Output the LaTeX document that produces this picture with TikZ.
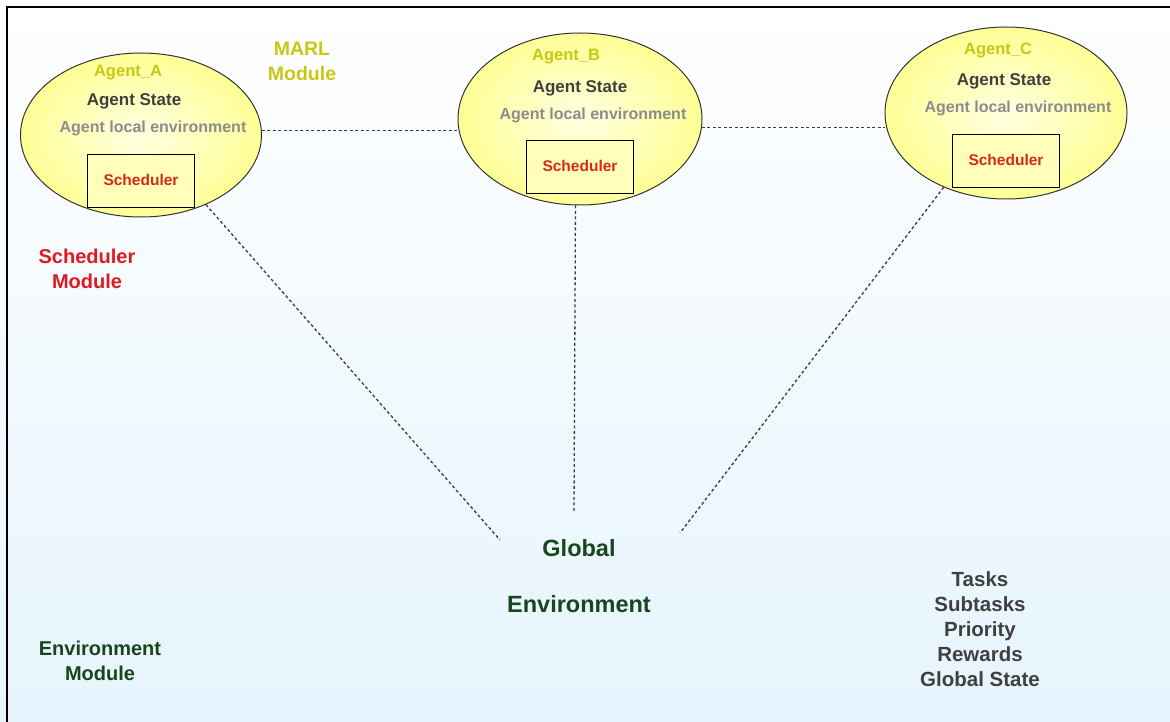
\documentclass[tikz,border=0pt]{standalone}
\usepackage{fontspec}
\setmainfont{Liberation Sans}
\usetikzlibrary{shapes.geometric}

\definecolor{agentyellow}{RGB}{200,200,20}
\definecolor{stategray}{RGB}{64,64,64}
\definecolor{localgray}{RGB}{140,140,140}
\definecolor{schedred}{RGB}{215,40,30}
\definecolor{modred}{RGB}{225,25,35}
\definecolor{envgreen}{RGB}{25,70,28}
\definecolor{linkgray}{RGB}{60,60,60}
\definecolor{bgbottom}{RGB}{230,244,253}

\tikzset{
  agent/.style={ellipse, draw=black!80, line width=1pt, inner sep=0pt,
    shading=radial, inner color={rgb,255:red,255;green,255;blue,225},
    outer color={rgb,255:red,255;green,255;blue,150}},
  schedbox/.style={draw=black, line width=1pt, inner sep=0pt,
    fill={rgb,255:red,255;green,255;blue,185},
    minimum width=107pt, minimum height=53pt},
  txt/.style={inner sep=0pt, anchor=base, font=\bfseries},
  agentname/.style={txt, text=agentyellow, font=\bfseries\fontsize{16.5}{19}\selectfont},
  agentstate/.style={txt, text=stategray, font=\bfseries\fontsize{17}{19}\selectfont},
  agentlocal/.style={txt, text=localgray, font=\bfseries\fontsize{16}{19}\selectfont},
  schedtxt/.style={txt, text=schedred, font=\bfseries\fontsize{15.5}{18}\selectfont},
  modlabel/.style={inner sep=0pt, align=center, anchor=center},
  link/.style={draw=linkgray, line width=1.3pt, dash pattern=on 3pt off 2.5pt}
}

\begin{document}
\begin{tikzpicture}[x=1pt,y=-1pt]
  % page and background
  \useasboundingbox (0,0) rectangle (1170,722);
  \shade[top color=white, bottom color=bgbottom] (0,0) rectangle (1170,722);
  \draw[line width=2pt, black] (7,722) -- (7,7) -- (1170,7);

  % agents
  \node[agent, minimum width=241pt, minimum height=164pt] (A) at (141,135) {};
  \node[agent, minimum width=244pt, minimum height=172pt] (B) at (580,119) {};
  \node[agent, minimum width=242pt, minimum height=172pt] (C) at (1006,113) {};

  % scheduler boxes
  \node[schedbox] (sA) at (141,181) {};
  \node[schedbox] (sB) at (580,167) {};
  \node[schedbox] (sC) at (1006,161) {};

  % agent texts
  \node[agentname]  (nA) at (128,77)  {Agent\_A};
  \node[agentstate] (tA) at (134,106) {Agent State};
  \node[agentlocal] (lA) at (153,133) {Agent local environment};
  \node[schedtxt]   (xA) at (141,186) {Scheduler};

  \node[agentname]  (nB) at (566,61)  {Agent\_B};
  \node[agentstate] (tB) at (580,93)  {Agent State};
  \node[agentlocal] (lB) at (593,120) {Agent local environment};
  \node[schedtxt]   (xB) at (580,172) {Scheduler};

  \node[agentname]  (nC) at (998,55)  {Agent\_C};
  \node[agentstate] (tC) at (1004,86) {Agent State};
  \node[agentlocal] (lC) at (1018,113) {Agent local environment};
  \node[schedtxt]   (xC) at (1006,166) {Scheduler};

  % module labels
  \node[modlabel, text=agentyellow, font=\bfseries\fontsize{19.5}{25}\selectfont]
    (marl) at (302,61) {MARL\\Module};
  \node[modlabel, text=modred, font=\bfseries\fontsize{20}{25}\selectfont]
    (schedmod) at (87,269) {Scheduler\\Module};
  \node[modlabel, text=envgreen, font=\bfseries\fontsize{20}{25}\selectfont]
    (envmod) at (100,661) {Environment\\Module};

  % global environment
  \node[txt, text=envgreen, font=\bfseries\fontsize{23.5}{27}\selectfont] (glob) at (579,556) {Global};
  \node[txt, text=envgreen, font=\bfseries\fontsize{23.5}{27}\selectfont] (genv) at (579,612) {Environment};

  % global state items
  \node[modlabel, text=stategray, font=\bfseries\fontsize{20.5}{25}\selectfont]
    (items) at (980,629) {Tasks\\Subtasks\\Priority\\Rewards\\Global State};

  % free ends of the links towards the global environment
  \coordinate (gA) at (500,540);
  \coordinate (gB) at (574,512);
  \coordinate (gC) at (680,533);

  % links
  \draw[link] (A.2) -- (B.west |- A.2);
  \draw[link] (B.-4) -- (C.west |- B.-4);
  \draw[link] (A.-47) -- (gA);
  \draw[link] (B.267) -- (gB);
  \draw[link] (C.230) -- (gC);
\end{tikzpicture}
\end{document}
